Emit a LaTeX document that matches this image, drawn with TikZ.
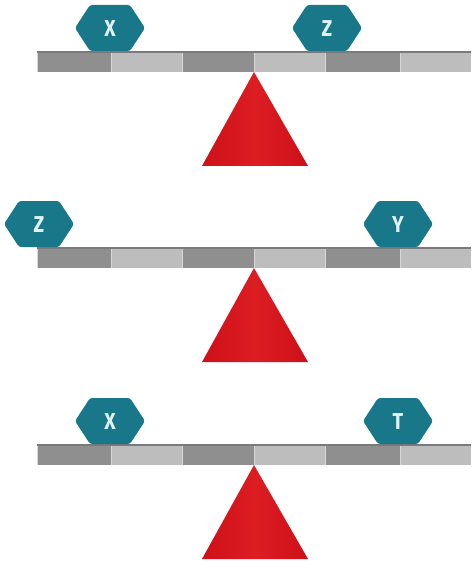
\documentclass[tikz,border=0pt]{standalone}
\usepackage{fontspec}
\setmainfont{Fira Sans}
\definecolor{weightfill}{HTML}{18788A}
\definecolor{weighttext}{HTML}{E2F2F3}
\definecolor{beamdark}{HTML}{8F8F8F}
\definecolor{beamlight}{HTML}{BDBDBD}
\definecolor{beamedge}{HTML}{7A7A7A}
\definecolor{pivotred}{HTML}{CE1018}
\definecolor{pivotlight}{HTML}{DC1D22}
\tikzset{
  weightlabel/.style={text=weighttext, font=\bfseries\fontsize{23}{23}\selectfont, inner sep=0pt, xscale=0.85},
}
% hexagonal weight: name, centre x, centre y, label
\newcommand\hexweight[4]{%
  \fill[weightfill, rounded corners=2.5pt]
    (#2-35,#3) -- (#2-20,#3-23) -- (#2+20,#3-23) -- (#2+35,#3)
    -- (#2+20,#3+23) -- (#2-20,#3+23) -- cycle;
  \node[weightlabel] (#1) at (#2,#3+1) {#4};}
% beam with six alternating segments and a red pivot; argument = top edge y
\newcommand\seesaw[1]{%
  \foreach \xa/\xb/\c in {37/111/beamdark, 111/182/beamlight, 182/254/beamdark,
                         254/325/beamlight, 325/400/beamdark, 400/471/beamlight}{
    \fill[\c] (\xa,#1) rectangle (\xb,#1+21);
    \draw[white!70!beamedge, line width=0.6pt] (\xa,#1+2) -- (\xa,#1+21);
  }
  \fill[beamedge] (37,#1) rectangle (471,#1+1.6);
  \shade[left color=pivotred, right color=pivotred, middle color=pivotlight]
    (254,#1+21) -- (308,#1+115) -- (202,#1+115) -- cycle;}
\begin{document}
\begin{tikzpicture}[x=1pt, y=-1pt]
\useasboundingbox[fill=white] (0,0) rectangle (472,561);
% first balance
\seesaw{51}
\hexweight{x1}{110}{28}{X}
\hexweight{z1}{327}{28}{Z}
% second balance
\seesaw{247}
\hexweight{z2}{39}{224}{Z}
\hexweight{y2}{398}{224}{Y}
% third balance
\seesaw{444}
\hexweight{x3}{110}{421}{X}
\hexweight{t3}{398}{421}{T}
\end{tikzpicture}
\end{document}
